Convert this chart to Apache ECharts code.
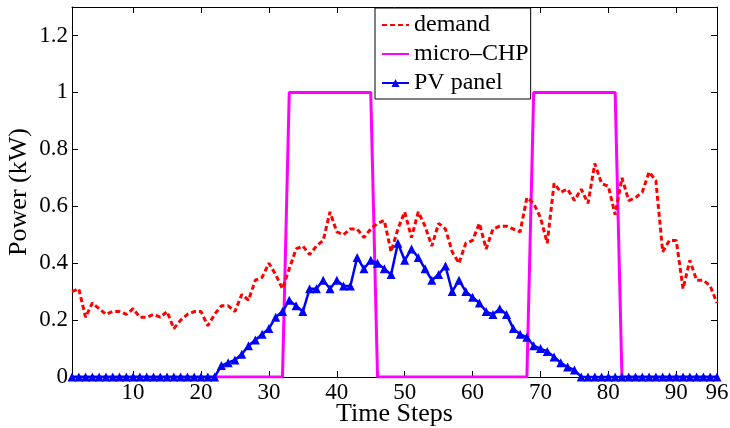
<!DOCTYPE html>
<html>
<head>
<meta charset="utf-8">
<script src="https://cdn.jsdelivr.net/npm/echarts@6/dist/echarts.min.js"></script>
<style>
html,body{margin:0;padding:0;background:#fff;}
#chart{width:730px;height:428px;}
</style>
</head>
<body>
<div id="chart"></div>
<script>
var xTicks = [10, 20, 30, 40, 50, 60, 70, 80, 90, 96];
var yTicks = [0, 0.2, 0.4, 0.6, 0.8, 1, 1.2];

var demand = [
  0.30, 0.31, 0.21, 0.26, 0.24, 0.22, 0.23, 0.23, 0.22, 0.24,
  0.21, 0.21, 0.22, 0.21, 0.23, 0.17, 0.20, 0.22, 0.23, 0.23,
  0.18, 0.22, 0.25, 0.25, 0.23, 0.29, 0.27, 0.34, 0.35, 0.40,
  0.36, 0.31, 0.38, 0.45, 0.46, 0.43, 0.46, 0.48, 0.58, 0.51,
  0.50, 0.52, 0.52, 0.49, 0.52, 0.54, 0.55, 0.44, 0.52, 0.58,
  0.49, 0.58, 0.53, 0.46, 0.54, 0.52, 0.44, 0.40, 0.47, 0.48,
  0.54, 0.45, 0.52, 0.53, 0.53, 0.52, 0.51, 0.63, 0.61, 0.56,
  0.47, 0.68, 0.65, 0.66, 0.62, 0.66, 0.61, 0.75, 0.68, 0.67,
  0.57, 0.70, 0.62, 0.63, 0.65, 0.72, 0.69, 0.44, 0.48, 0.48,
  0.31, 0.41, 0.34, 0.34, 0.32, 0.26
];

var microCHP = [
  0, 0, 0, 0, 0, 0, 0, 0, 0, 0,
  0, 0, 0, 0, 0, 0, 0, 0, 0, 0,
  0, 0, 0, 0, 0, 0, 0, 0, 0, 0,
  0, 0, 1, 1, 1, 1, 1, 1, 1, 1,
  1, 1, 1, 1, 1, 0, 0, 0, 0, 0,
  0, 0, 0, 0, 0, 0, 0, 0, 0, 0,
  0, 0, 0, 0, 0, 0, 0, 0, 1, 1,
  1, 1, 1, 1, 1, 1, 1, 1, 1, 1,
  1, 0, 0, 0, 0, 0, 0, 0, 0, 0,
  0, 0, 0, 0, 0, 0
];

var pvPanel = [
  0, 0, 0, 0, 0, 0, 0, 0, 0, 0,
  0, 0, 0, 0, 0, 0, 0, 0, 0, 0,
  0, 0, 0.04, 0.05, 0.06, 0.08, 0.11, 0.13, 0.15, 0.17,
  0.21, 0.23, 0.27, 0.25, 0.23, 0.31, 0.31, 0.34, 0.31, 0.34,
  0.32, 0.32, 0.42, 0.38, 0.41, 0.40, 0.38, 0.36, 0.47, 0.41,
  0.45, 0.42, 0.38, 0.34, 0.36, 0.39, 0.30, 0.34, 0.30, 0.28,
  0.26, 0.23, 0.22, 0.24, 0.22, 0.17, 0.15, 0.14, 0.11, 0.10,
  0.09, 0.07, 0.05, 0.035, 0.025, 0, 0, 0, 0, 0,
  0, 0, 0, 0, 0, 0, 0, 0, 0, 0,
  0, 0, 0, 0, 0, 0
];

var steps = demand.map(function (_, i) { return i + 1; });
function pairs(vals) { return vals.map(function (v, i) { return [steps[i], v]; }); }

var FONT = 'Liberation Serif';
var chart = echarts.init(document.getElementById('chart'), null, {renderer: 'canvas'});

var baseX = {
  type: 'value', min: 1, max: 96,
  axisLine: {show: true, onZero: false, lineStyle: {color: '#000', width: 1}},
  splitLine: {show: false}
};
var baseY = {
  type: 'value', min: 0, max: 1.3,
  axisLine: {show: true, onZero: false, lineStyle: {color: '#000', width: 1}},
  splitLine: {show: false}
};
var hideSym = {color: 'rgba(0,0,0,0)', borderWidth: 0, opacity: 0};

chart.setOption({
  animation: false,
  backgroundColor: '#fff',
  grid: {left: 72, right: 13, top: 7, bottom: 51, containLabel: false, outerBoundsMode: 'none'},
  legend: {
    orient: 'vertical',
    left: 375, top: 8,
    itemWidth: 27, itemHeight: 10, itemGap: 5,
    padding: [5, 2, 4, 6],
    borderColor: '#000', borderWidth: 1, backgroundColor: '#fff',
    textStyle: {fontFamily: FONT, fontSize: 24, color: '#000'},
    data: [
      {name: 'demand', itemStyle: hideSym},
      {name: 'micro\u2013CHP', itemStyle: hideSym},
      {name: 'PV panel'}
    ]
  },
  xAxis: [
    Object.assign({}, baseX, {
      position: 'bottom',
      name: 'Time Steps', nameLocation: 'middle', nameGap: 24, nameMoveOverlap: false,
      nameTextStyle: {fontFamily: FONT, fontSize: 26, color: '#000'},
      axisTick: {show: true, inside: true, length: 6, customValues: xTicks, lineStyle: {color: '#000'}},
      axisLabel: {show: true, customValues: xTicks, margin: 4, fontFamily: FONT, fontSize: 23, color: '#000'}
    }),
    Object.assign({}, baseX, {
      position: 'top',
      axisTick: {show: true, inside: true, length: 6, customValues: xTicks, lineStyle: {color: '#000'}},
      axisLabel: {show: false}
    })
  ],
  yAxis: [
    Object.assign({}, baseY, {
      position: 'left',
      name: 'Power (kW)', nameLocation: 'middle', nameGap: 40, nameRotate: 90, nameMoveOverlap: false,
      nameTextStyle: {fontFamily: FONT, fontSize: 26, color: '#000'},
      axisTick: {show: true, inside: true, length: 6, customValues: yTicks, lineStyle: {color: '#000'}},
      axisLabel: {show: true, customValues: yTicks, margin: 4, fontFamily: FONT, fontSize: 23, color: '#000'}
    }),
    Object.assign({}, baseY, {
      position: 'right',
      axisTick: {show: true, inside: true, length: 6, customValues: yTicks, lineStyle: {color: '#000'}},
      axisLabel: {show: false}
    })
  ],
  series: [
    {
      name: 'demand', type: 'line', xAxisIndex: 0, yAxisIndex: 0,
      data: pairs(demand),
      symbol: 'none', showSymbol: false,
      lineStyle: {color: '#ff0000', width: 3, type: [5, 3]},
      itemStyle: {color: '#ff0000'},
      z: 3
    },
    {
      name: 'micro\u2013CHP', type: 'line', xAxisIndex: 0, yAxisIndex: 0,
      data: pairs(microCHP),
      symbol: 'none', showSymbol: false,
      lineStyle: {color: '#ff00ff', width: 3},
      itemStyle: {color: '#ff00ff'},
      z: 2
    },
    {
      name: 'PV panel', type: 'line', xAxisIndex: 0, yAxisIndex: 0,
      data: pairs(pvPanel),
      symbol: 'triangle', symbolSize: 9, showSymbol: true,
      lineStyle: {color: '#0000ff', width: 2.5},
      itemStyle: {color: '#0000ff'},
      z: 4
    }
  ]
});
</script>
</body>
</html>
